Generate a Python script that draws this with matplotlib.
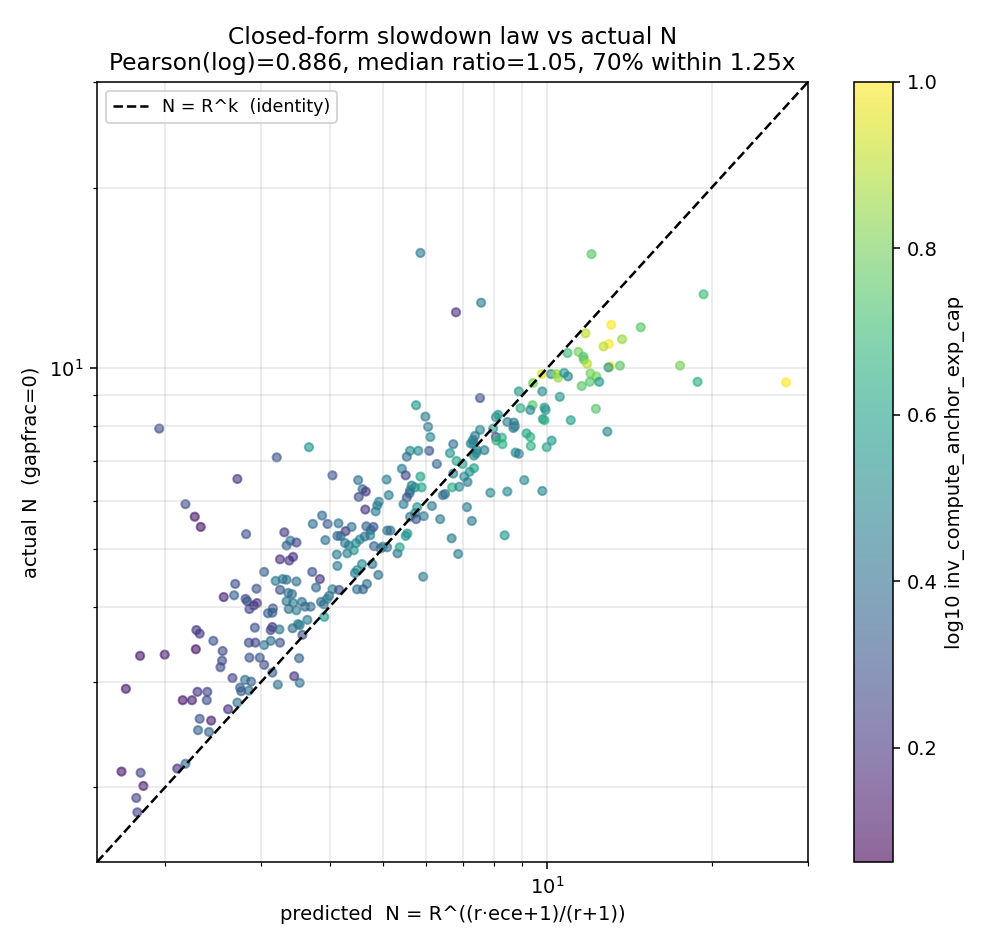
import numpy as np
import matplotlib
matplotlib.use("Agg")
import matplotlib.pyplot as plt

# values, stored as log10 of the plotted quantity
log_pred = [
    # lower-left cluster
    0.255, 0.300, 0.357, 0.389, 0.406, 0.405, 0.402, 0.454, 0.466, 0.482, 0.494, 0.511, 0.455, 0.474, 0.482,
    0.497, 0.537, 0.546, 0.547, 0.507, 0.424, 0.447, 0.458, 0.438, 0.440, 0.454, 0.433, 0.416, 0.229, 0.360,
    0.378, 0.333, 0.350, 0.377, 0.364, 0.385, 0.361, 0.381, 0.323, 0.338, 0.221, 0.256, 0.261, 0.248, 0.250,
    # left-middle
    0.290, 0.505, 0.433, 0.338, 0.355, 0.366, 0.449, 0.519, 0.530, 0.523, 0.541, 0.511, 0.528, 0.535, 0.482,
    0.429, 0.468, 0.427, 0.408, 0.448, 0.451, 0.469, 0.463, 0.455, 0.503, 0.516, 0.523, 0.541, 0.511, 0.526,
    0.533, 0.523, 0.535, 0.498, 0.489, 0.497, 0.527, 0.541, 0.544, 0.358, 0.364, 0.465, 0.497, 0.494, 0.510,
    0.534,
    # center-left
    0.571, 0.588, 0.598, 0.618, 0.631, 0.616, 0.622, 0.594, 0.630, 0.637, 0.634, 0.615, 0.616, 0.570, 0.584,
    0.577, 0.607, 0.619, 0.601, 0.567, 0.586, 0.591, 0.597, 0.551, 0.557, 0.592, 0.561, 0.547, 0.552, 0.564,
    0.607,
    # center
    0.760, 0.777, 0.782, 0.786, 0.749, 0.764, 0.784, 0.743, 0.798, 0.734, 0.741, 0.768, 0.706, 0.654, 0.662,
    0.668, 0.655, 0.752, 0.749, 0.758, 0.770, 0.748, 0.743, 0.710, 0.692, 0.689, 0.737, 0.667, 0.686, 0.762,
    0.758, 0.789, 0.774, 0.749, 0.760, 0.804, 0.642, 0.669, 0.682, 0.677, 0.676, 0.707, 0.713, 0.744, 0.741,
    0.657, 0.666, 0.650, 0.683, 0.699, 0.695, 0.707, 0.646, 0.726, 0.730, 0.661, 0.680, 0.652, 0.691, 0.648,
    0.670, 0.663, 0.652, 0.773, 0.809, 0.813,
    # upper-center
    0.768, 0.833, 0.879, 1.081,
    0.877, 0.948, 0.991, 0.974, 0.990, 1.007, 1.017, 1.020, 0.951, 0.973, 0.969, 0.995, 0.997, 0.992, 0.995,
    0.906, 0.910, 0.927, 0.939, 0.941, 0.938, 0.901, 0.877, 0.868, 0.864, 0.865, 0.860, 0.906, 0.907, 0.917,
    0.918, 0.962, 0.969, 0.970, 1.008, 0.999, 0.828, 0.885, 0.871, 0.870, 0.866, 0.942, 0.948, 0.822, 0.834,
    0.845, 0.866, 0.858, 0.848, 0.828,
    0.826, 0.839, 0.854, 0.896, 0.927, 0.958, 0.991, 0.853, 0.862, 0.922, 0.825, 0.837,
    # upper-right
    1.286, 1.117, 1.171, 1.070, 1.137, 1.113, 1.103, 1.037, 1.057, 1.066, 1.067, 1.073, 1.115, 1.112, 1.133,
    1.243, 1.079, 1.090, 1.031, 1.038, 1.063, 1.078, 1.095, 1.275, 1.437, 1.023, 1.089, 1.043, 1.110,
]

log_actual = [
    0.520, 0.522, 0.531, 0.545, 0.528, 0.512, 0.501, 0.542, 0.542, 0.538, 0.545, 0.542, 0.517, 0.517, 0.505,
    0.492, 0.486, 0.516, 0.475, 0.472, 0.483, 0.480, 0.477, 0.467, 0.461, 0.462, 0.442, 0.431, 0.465, 0.460,
    0.460, 0.446, 0.446, 0.446, 0.415, 0.412, 0.396, 0.393, 0.332, 0.340, 0.327, 0.325, 0.303, 0.283, 0.259,
    0.899, 0.851, 0.815, 0.773, 0.752, 0.735, 0.723, 0.726, 0.712, 0.704, 0.709, 0.681, 0.679, 0.685, 0.660,
    0.640, 0.632, 0.621, 0.618, 0.615, 0.611, 0.608, 0.604, 0.598, 0.645, 0.648, 0.647, 0.644, 0.630, 0.625,
    0.623, 0.611, 0.608, 0.599, 0.591, 0.592, 0.598, 0.596, 0.573, 0.563, 0.557, 0.567, 0.568, 0.563, 0.564,
    0.566,
    0.740, 0.754, 0.740, 0.741, 0.728, 0.720, 0.720, 0.713, 0.708, 0.704, 0.691, 0.689, 0.670, 0.660, 0.648,
    0.634, 0.631, 0.630, 0.620, 0.602, 0.610, 0.606, 0.615, 0.610, 0.602, 0.585, 0.580, 0.571, 0.555, 0.868,
    0.821,
    0.938, 0.919, 0.902, 0.885, 0.862, 0.862, 0.862, 0.852, 0.840, 0.832, 0.821, 0.819, 0.814, 0.813, 0.798,
    0.794, 0.785, 0.804, 0.796, 0.801, 0.801, 0.791, 0.784, 0.788, 0.777, 0.771, 0.773, 0.764, 0.761, 0.768,
    0.758, 0.770, 0.753, 0.752, 0.748, 0.748, 0.735, 0.736, 0.735, 0.730, 0.721, 0.729, 0.729, 0.724, 0.720,
    0.714, 0.719, 0.708, 0.703, 0.702, 0.699, 0.701, 0.696, 0.691, 0.701, 0.673, 0.673, 0.663, 0.655, 0.658,
    0.640, 0.631, 0.631, 0.652, 0.788, 0.790,
    1.192, 1.093, 1.109, 1.190,
    0.950, 0.961, 0.961, 0.975, 0.990, 0.990, 0.990, 0.984, 0.933, 0.938, 0.930, 0.934, 0.930, 0.915, 0.913,
    0.918, 0.922, 0.910, 0.909, 0.903, 0.900, 0.899, 0.897, 0.887, 0.880, 0.874, 0.874, 0.885, 0.879, 0.884,
    0.873, 0.891, 0.885, 0.870, 0.879, 0.868, 0.873, 0.863, 0.863, 0.858, 0.854, 0.859, 0.857, 0.858, 0.845,
    0.840, 0.833, 0.827, 0.819, 0.824,
    0.801, 0.802, 0.810, 0.792, 0.794, 0.813, 0.795, 0.768, 0.745, 0.721, 0.716, 0.690,
    1.123, 1.072, 1.068, 1.058, 1.048, 1.040, 1.036, 1.025, 1.027, 1.019, 1.014, 1.007, 1.003, 1.001, 1.004,
    1.004, 0.991, 0.986, 0.992, 0.986, 0.970, 0.977, 0.977, 0.977, 0.976, 0.952, 0.932, 0.913, 0.894,
]

# log10 inv_compute_anchor_exp_cap (colour)
anchor_cap = [
    0.12, 0.12, 0.10, 0.30, 0.28, 0.28, 0.28, 0.28, 0.25, 0.42, 0.40, 0.30, 0.30, 0.30, 0.28,
    0.35, 0.20, 0.35, 0.40, 0.40, 0.25, 0.40, 0.35, 0.35, 0.33, 0.40, 0.42, 0.20, 0.12, 0.20,
    0.25, 0.12, 0.15, 0.28, 0.30, 0.15, 0.35, 0.35, 0.18, 0.38, 0.12, 0.25, 0.12, 0.25, 0.25,
    0.28, 0.30, 0.20, 0.28, 0.12, 0.12, 0.30, 0.22, 0.45, 0.35, 0.25, 0.20, 0.22, 0.20, 0.35,
    0.28, 0.30, 0.35, 0.15, 0.28, 0.30, 0.20, 0.20, 0.25, 0.45, 0.45, 0.40, 0.40, 0.30, 0.42,
    0.40, 0.42, 0.45, 0.30, 0.35, 0.33, 0.40, 0.45, 0.45, 0.20, 0.22, 0.30, 0.20, 0.25, 0.42,
    0.38,
    0.40, 0.38, 0.33, 0.42, 0.20, 0.38, 0.38, 0.42, 0.45, 0.45, 0.45, 0.45, 0.45, 0.30, 0.20,
    0.38, 0.45, 0.28, 0.40, 0.38, 0.40, 0.40, 0.45, 0.40, 0.38, 0.55, 0.45, 0.45, 0.28, 0.55,
    0.30,
    0.55, 0.45, 0.45, 0.50, 0.50, 0.50, 0.30, 0.40, 0.35, 0.45, 0.25, 0.60, 0.45, 0.40, 0.40,
    0.20, 0.28, 0.45, 0.45, 0.50, 0.60, 0.40, 0.30, 0.45, 0.45, 0.45, 0.45, 0.20, 0.45, 0.55,
    0.50, 0.45, 0.45, 0.45, 0.30, 0.45, 0.42, 0.35, 0.30, 0.35, 0.50, 0.40, 0.40, 0.55, 0.55,
    0.50, 0.40, 0.50, 0.35, 0.42, 0.42, 0.42, 0.55, 0.40, 0.60, 0.50, 0.40, 0.55, 0.40, 0.45,
    0.40, 0.35, 0.40, 0.45, 0.40, 0.40,
    0.45, 0.20, 0.45, 0.75,
    0.30, 0.55, 0.50, 0.80, 0.95, 0.50, 0.85, 0.85, 0.65, 0.75, 0.50, 0.55, 0.55, 0.55, 0.65,
    0.50, 0.55, 0.45, 0.45, 0.45, 0.45, 0.55, 0.50, 0.45, 0.40, 0.45, 0.50, 0.25, 0.65, 0.65,
    0.65, 0.60, 0.65, 0.65, 0.55, 0.60, 0.40, 0.45, 0.50, 0.50, 0.50, 0.50, 0.45, 0.55, 0.60,
    0.60, 0.60, 0.55, 0.50, 0.45,
    0.65, 0.50, 0.45, 0.50, 0.50, 0.50, 0.50, 0.45, 0.45, 0.55, 0.45, 0.45,
    0.70, 1.00, 0.75, 0.90, 0.85, 1.00, 0.90, 0.70, 0.80, 0.75, 0.75, 0.90, 1.00, 0.55, 0.75,
    0.80, 0.80, 0.80, 0.55, 0.50, 0.75, 0.75, 0.55, 0.65, 1.00, 0.55, 0.75, 0.60, 0.50,
]

pred = 10 ** np.array(log_pred)
actual = 10 ** np.array(log_actual)
lims = [1.5, 30]

fig = plt.figure(figsize=(7.2, 6.8), dpi=140)
ax = fig.add_axes([0.0962, 0.0945, 0.7054, 0.8194])
cax = fig.add_axes([0.8472, 0.0945, 0.0387, 0.8194])

sc = ax.scatter(pred, actual, c=anchor_cap, cmap="viridis", vmin=0.063, vmax=1.0,
                s=18, alpha=0.6)
ax.plot(lims, lims, "k--", lw=1.3, label="N = R^k  (identity)")

ax.set_xscale("log")
ax.set_yscale("log")
ax.set_xlim(lims)
ax.set_ylim(lims)
ax.grid(True, which="both", alpha=0.3)
ax.set_xlabel("predicted  N = R^((r·ece+1)/(r+1))")
ax.set_ylabel("actual N  (gapfrac=0)")
ax.set_title("Closed-form slowdown law vs actual N\n"
             "Pearson(log)=0.886, median ratio=1.05, 70% within 1.25x")
ax.legend(loc="upper left", fontsize=9)

cb = fig.colorbar(sc, cax=cax)
cb.set_label("log10 inv_compute_anchor_exp_cap")

fig.savefig("out.png", dpi=140)
